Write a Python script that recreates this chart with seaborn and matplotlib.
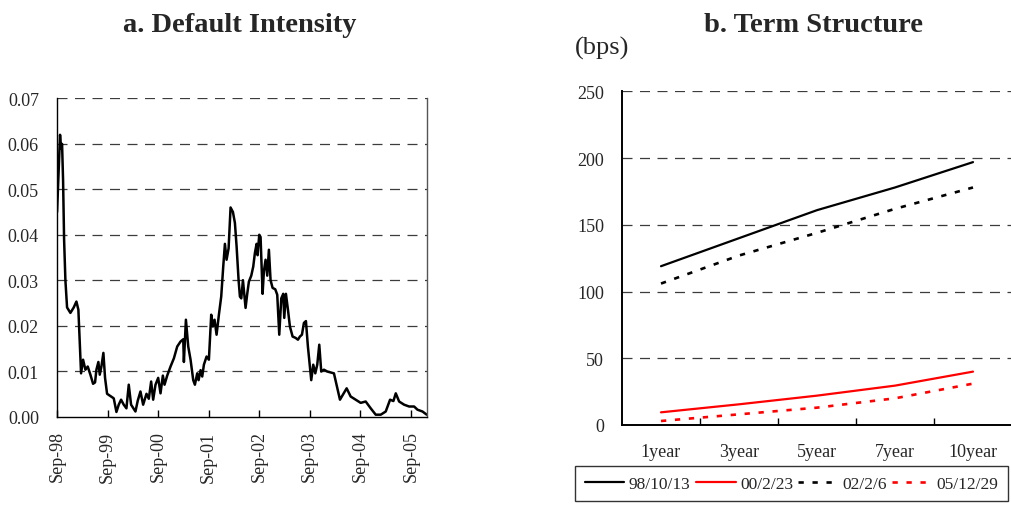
import matplotlib
matplotlib.use("Agg")
import matplotlib.pyplot as plt
import matplotlib.dates as mdates
from matplotlib.lines import Line2D
from matplotlib.ticker import FormatStrFormatter, FixedLocator
import numpy as np
import pandas as pd
import seaborn as sns

# ---- Panel a: default intensity (time in decimal years) ----
intensity_time = [
    1998.667, 1998.706, 1998.726, 1998.746, 1998.766, 1998.786, 1998.806, 1998.832,
    1998.865, 1998.931, 1998.997, 1999.050, 1999.089, 1999.142, 1999.182, 1999.228,
    1999.274, 1999.327, 1999.380, 1999.419, 1999.446, 1999.485, 1999.512, 1999.545,
    1999.584, 1999.617, 1999.657, 1999.723, 1999.789, 1999.842, 1999.888, 1999.934,
    1999.987, 2000.040, 2000.086, 2000.132, 2000.218, 2000.264, 2000.317, 2000.370,
    2000.436, 2000.482, 2000.528, 2000.568, 2000.614, 2000.667, 2000.713, 2000.759,
    2000.792, 2000.845, 2000.911, 2000.977, 2001.043, 2001.109, 2001.162, 2001.175,
    2001.215, 2001.261, 2001.307, 2001.360, 2001.393, 2001.439, 2001.466, 2001.505,
    2001.538, 2001.571, 2001.624, 2001.670, 2001.716, 2001.749, 2001.782, 2001.822,
    2001.868, 2001.914, 2001.954, 2001.987, 2002.020, 2002.060, 2002.099, 2002.146,
    2002.185, 2002.218, 2002.258, 2002.284, 2002.311, 2002.344, 2002.370, 2002.396,
    2002.429, 2002.462, 2002.509, 2002.548, 2002.581, 2002.614, 2002.634, 2002.667,
    2002.693, 2002.733, 2002.759, 2002.792, 2002.825, 2002.858, 2002.891, 2002.931,
    2002.984, 2003.023, 2003.063, 2003.103, 2003.142, 2003.162, 2003.195, 2003.235,
    2003.274, 2003.327, 2003.386, 2003.433, 2003.472, 2003.512, 2003.551, 2003.591,
    2003.630, 2003.670, 2003.696, 2003.736, 2003.776, 2003.815, 2003.855, 2003.894,
    2003.947, 2004.013, 2004.079, 2004.145, 2004.264, 2004.396, 2004.475, 2004.574,
    2004.673, 2004.772, 2004.871, 2004.970, 2005.069, 2005.168, 2005.254, 2005.320,
    2005.367, 2005.433, 2005.532, 2005.631, 2005.730, 2005.796, 2005.895, 2005.980,
]
intensity_value = [
    0.045, 0.056, 0.062, 0.059, 0.060, 0.052, 0.039, 0.030,
    0.024, 0.0228, 0.024, 0.0253, 0.0235, 0.0095, 0.0125, 0.0103,
    0.011, 0.0092, 0.0072, 0.0075, 0.0103, 0.012, 0.0092, 0.011,
    0.014, 0.0085, 0.005, 0.0045, 0.004, 0.001, 0.0026, 0.0037,
    0.0026, 0.0018, 0.007, 0.0026, 0.0011, 0.0035, 0.0055, 0.0026,
    0.005, 0.0039, 0.0077, 0.0037, 0.0070, 0.0085, 0.0051, 0.009,
    0.0070, 0.009, 0.011, 0.0128, 0.0154, 0.0165, 0.017, 0.012,
    0.0213, 0.0154, 0.0125, 0.008, 0.007, 0.0095, 0.0080, 0.0102,
    0.0088, 0.0114, 0.0132, 0.0125, 0.0224, 0.0198, 0.0213, 0.018,
    0.0224, 0.0264, 0.033, 0.038, 0.0345, 0.037, 0.046, 0.045,
    0.0426, 0.0375, 0.030, 0.0264, 0.026, 0.030, 0.027, 0.0239,
    0.027, 0.0297, 0.031, 0.033, 0.036, 0.038, 0.0355, 0.040,
    0.0395, 0.027, 0.032, 0.0345, 0.031, 0.0367, 0.030, 0.0283,
    0.028, 0.0268, 0.018, 0.026, 0.027, 0.0217, 0.027, 0.0235,
    0.0198, 0.0176, 0.0173, 0.0169, 0.0176, 0.018, 0.0206, 0.021,
    0.0154, 0.011, 0.008, 0.0114, 0.0095, 0.0114, 0.0158, 0.0099,
    0.0103, 0.0099, 0.0097, 0.0095, 0.0037, 0.0062, 0.0044, 0.0037,
    0.003, 0.0033, 0.0018, 0.0004, 0.0004, 0.0011, 0.0037, 0.0034,
    0.0051, 0.0033, 0.0026, 0.0022, 0.0022, 0.0015, 0.0011, 0.0004,
]
intensity_ticks = ["1998-09-01", "1999-09-01", "2000-09-01", "2001-09-01",
                   "2002-09-01", "2003-09-01", "2004-09-01", "2005-09-01"]
intensity_yticks = [0.00, 0.01, 0.02, 0.03, 0.04, 0.05, 0.06, 0.07]

# ---- Panel b: term structure of spreads (bps) ----
maturities = ["1year", "3year", "5year", "7year", "10year"]
curve_labels = ["98/10/13", "00/2/23", "02/2/6", "05/12/29"]
spread_981013 = [119, 140, 161, 178, 197]
spread_000223 = [9.5, 15.5, 22, 29.5, 40]
spread_020206 = [106, 127, 144, 162, 178]
spread_051229 = [3, 8, 13, 20, 31]
spread_yticks = [0, 50, 100, 150, 200, 250]


def decimal_year_to_timestamp(y):
    yr = int(np.floor(y))
    start = pd.Timestamp(yr, 1, 1)
    end = pd.Timestamp(yr + 1, 1, 1)
    return start + (end - start) * (y - yr)


sns.set_theme(style="white")
plt.rcParams["font.family"] = ["Liberation Serif", "DejaVu Serif"]
plt.rcParams["axes.linewidth"] = 1.0

TICK_FS = 13
GRID_KW = dict(color="#3c3c3c", linewidth=0.9, linestyle=(0, (8, 6)))

fig = plt.figure(figsize=(10.11, 5.10), dpi=100)

# ---------------- panel a ----------------
ax1 = fig.add_axes([57 / 1011, 1 - 417.5 / 510, 370 / 1011, 318.5 / 510])
df_a = pd.DataFrame({
    "date": [decimal_year_to_timestamp(t) for t in intensity_time],
    "intensity": intensity_value,
})
sns.lineplot(data=df_a, x="date", y="intensity", ax=ax1, color="black",
             linewidth=1.8, sort=False)
ax1.set_xlim(pd.Timestamp("1998-09-01"), decimal_year_to_timestamp(2005.985))
ax1.set_ylim(0, 0.0701)
ax1.set_yticks(intensity_yticks)
ax1.yaxis.set_major_formatter(FormatStrFormatter("%.2f"))
ax1.set_xticks([pd.Timestamp(d) for d in intensity_ticks])
ax1.xaxis.set_major_formatter(mdates.DateFormatter("%b-%y"))
for ytick in intensity_yticks[1:]:
    ax1.axhline(ytick, zorder=0, **GRID_KW)
ax1.tick_params(axis="x", direction="in", length=5, width=1, color="black",
                pad=10, labelsize=TICK_FS, rotation=90, bottom=True)
ax1.tick_params(axis="y", length=0, pad=13, labelsize=TICK_FS)
ax1.set_xlabel("")
ax1.set_ylabel("")
ax1.spines["top"].set_visible(False)
for side in ("left", "bottom", "right"):
    ax1.spines[side].set_color("black")
ax1.spines["right"].set_color("#555555")

# ---------------- panel b ----------------
ax2 = fig.add_axes([622 / 1011, 1 - 426 / 510, 390 / 1011, 334 / 510])
dash = (0, (2.0, 3.3))
curves = [
    (spread_981013, "black", "-", 1.6),
    (spread_000223, "#ff0000", "-", 1.6),
    (spread_020206, "black", dash, 1.9),
    (spread_051229, "#ff0000", dash, 1.9),
]
handles = []
for (vals, col, ls, lw), lab in zip(curves, curve_labels):
    df_b = pd.DataFrame({"maturity": maturities, "spread": vals})
    sns.lineplot(data=df_b, x="maturity", y="spread", ax=ax2, color=col,
                 linestyle=ls, linewidth=lw, sort=False)
    handles.append(Line2D([0], [0], color=col, linestyle=ls, linewidth=lw))

ax2.set_xlim(-0.5, 4.5)
ax2.set_ylim(0, 250.3)
ax2.set_yticks(spread_yticks)
for ytick in spread_yticks[1:]:
    ax2.axhline(ytick, zorder=0, **GRID_KW)
ax2.set_xticks(range(len(maturities)))
ax2.set_xticklabels(maturities)
ax2.xaxis.set_minor_locator(FixedLocator([0.5, 1.5, 2.5, 3.5]))
ax2.tick_params(axis="x", which="major", length=0, pad=13, labelsize=TICK_FS)
ax2.tick_params(axis="x", which="minor", direction="in", length=5, width=1,
                color="black", bottom=True)
ax2.tick_params(axis="y", length=0, pad=13, labelsize=TICK_FS)
ax2.set_xlabel("")
ax2.set_ylabel("")
ax2.spines["top"].set_visible(False)
ax2.spines["right"].set_visible(False)
ax2.spines["left"].set_linewidth(1.4)
ax2.spines["bottom"].set_linewidth(1.4)
ax2.spines["left"].set_color("black")
ax2.spines["bottom"].set_color("black")

# ---------------- titles and legend ----------------
fig.text(240 / 1011, 1 - 25 / 510, "a. Default Intensity", ha="center",
         va="center", fontsize=20.5, fontweight="bold")
fig.text(813 / 1011, 1 - 25 / 510, "b. Term Structure", ha="center",
         va="center", fontsize=20.5, fontweight="bold")
fig.text(575 / 1011, 1 - 48 / 510, "(bps)", ha="left", va="center", fontsize=19)

leg = fig.legend(handles, curve_labels, loc="upper left",
                 bbox_to_anchor=(575 / 1011, 1 - 467 / 510), ncol=4,
                 frameon=True, fancybox=False, fontsize=12.5,
                 handlelength=2.3, handletextpad=0.25, columnspacing=0.3,
                 borderpad=0.55, borderaxespad=0)
leg.get_frame().set_edgecolor("black")
leg.get_frame().set_linewidth(1.0)

fig.savefig("out.png", dpi=100)
